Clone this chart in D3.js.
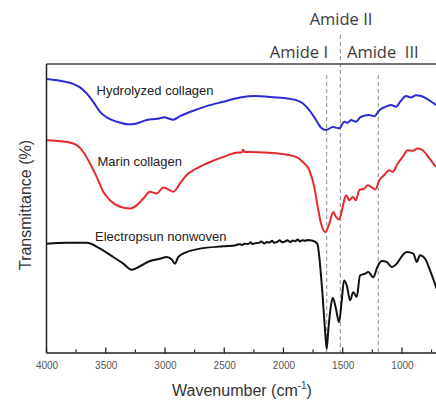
<!DOCTYPE html>
<html>
<head>
<meta charset="utf-8">
<script src="https://cdn.jsdelivr.net/npm/d3@7/dist/d3.min.js"></script>
<style>
  html, body { margin: 0; padding: 0; background: #fff; }
  svg { display: block; }
</style>
</head>
<body>
<svg id="chart" width="436" height="402"></svg>
<script>
// ---- Data (wavenumber in cm^-1, transmittance in arbitrary offset units) ----
const hydrolyzedWn = [3998,3886,3774,3717,3661,3605,3548,3492,3407,3310,3239,3154,3070,3000,2972,2930,2873,2761,2648,2508,2367,2232,2120,1979,1894,1838,1782,1725,1683,1641,1584,1529,1487,1458,1430,1388,1346,1276,1233,1191,1135,1092,1050,1008,966,924,881,839,797,713];
const hydrolyzedT  = [94.8,94.2,93.1,91.9,89.8,86.9,83.4,81.5,80.0,79.1,79.4,80.6,81.0,81.5,81.1,80.7,81.9,83.8,85.4,86.9,88.4,88.9,88.6,88.1,87.5,86.4,84.0,80.6,77.9,77.1,78.2,77.7,80.0,79.6,80.6,80.0,81.7,82.3,81.9,84.0,85.2,85.8,85.2,87.3,88.9,88.4,89.2,88.9,88.1,85.8];

const marineWn = [3998,3830,3745,3689,3633,3576,3521,3464,3380,3295,3239,3183,3126,3070,3014,2972,2930,2873,2817,2732,2648,2508,2401,2350,2340,2330,2288,2120,1979,1894,1838,1782,1740,1711,1683,1647,1613,1579,1557,1529,1500,1472,1444,1416,1388,1360,1318,1289,1261,1225,1191,1149,1107,1078,1036,994,951,909,867,825,769,713];
const marineT  = [73.6,73.0,71.9,69.5,65.5,60.9,55.7,52.8,50.5,49.9,51.0,53.4,55.7,55.1,57.2,56.5,55.7,58.6,61.5,63.8,65.5,67.8,69.2,69.4,70.4,69.5,69.5,69.2,68.6,67.8,66.1,63.2,57.4,50.5,44.7,41.8,44.7,48.7,47.0,46.1,50.5,54.5,52.8,53.9,52.8,56.3,56.8,58.0,57.4,56.5,59.7,61.5,63.2,62.6,65.5,67.8,70.1,69.9,70.7,70.1,67.3,64.3];

const nonwovenWn = [3998,3830,3661,3548,3436,3352,3281,3211,3126,3042,2985,2943,2915,2888,2817,2704,2508,2400,2380,2345,2330,2300,2275,2262,2240,2205,2190,2160,2142,2120,2095,2080,2050,2032,2010,1985,1970,1940,1922,1900,1880,1862,1840,1815,1800,1760,1714,1692,1669,1649,1635,1622,1601,1584,1557,1531,1508,1489,1466,1438,1411,1382,1354,1312,1284,1242,1208,1171,1129,1086,1044,1002,960,904,875,848,805,763,707];
const nonwovenT  = [37.7,38.0,38.0,36.0,33.1,30.8,28.7,29.9,31.7,32.5,33.1,32.2,30.8,33.1,34.8,36.0,36.8,37.2,37.5,37.3,37.7,37.6,38.2,37.6,37.9,38.0,38.5,37.8,38.3,38.1,38.7,38.0,38.4,38.9,38.2,38.5,38.9,38.3,38.8,38.6,39.2,38.5,38.9,38.7,39.0,38.8,37.7,30.8,19.2,7.6,1.3,7.6,15.7,19.0,15.2,10.5,18.1,25.0,23.3,18.1,20.9,19.2,26.7,27.3,27.9,26.1,29.6,31.7,31.4,29.6,30.8,33.3,34.8,34.3,31.4,33.7,32.5,28.5,22.1];

const seriesNames  = ["Hydrolyzed collagen", "Marin collagen", "Electropsun nonwoven"];
const majorTicks   = [4000, 3500, 3000, 2500, 2000, 1500, 1000];
const minorTicks   = [3750, 3250, 2750, 2250, 1750, 1250, 750];
const markerWn     = [1635, 1520, 1200];
const markerLabels = ["Amide I", "Amide II", "Amide  III"];

// ---- Layout ----
const svg = d3.select("#chart");
const pLeft = 46.5, pRight = 437.5, pTop = 64, pBottom = 352.5;

const x = d3.scaleLinear().domain([4000, 700]).range([pLeft, pRight]);
const y = d3.scaleLinear().domain([0, 100]).range([pBottom, pTop]);

svg.append("defs").append("clipPath").attr("id", "plotClip")
  .append("rect").attr("x", pLeft).attr("y", pTop).attr("width", pRight - pLeft).attr("height", pBottom - pTop);

// dashed marker lines
const dashG = svg.append("g");
markerWn.forEach((w, i) => {
  dashG.append("line")
    .attr("x1", x(w)).attr("x2", x(w))
    .attr("y1", i === 1 ? 35 : pTop + 11).attr("y2", pBottom)
    .attr("stroke", "#8a8a8a").attr("stroke-width", 1)
    .attr("stroke-dasharray", "4,3");
});

// curves
const line = d3.line()
  .x(d => x(d[0])).y(d => y(d[1]))
  .curve(d3.curveMonotoneX);

const series = [
  { wn: hydrolyzedWn, t: hydrolyzedT, color: "#2a2ad6" },
  { wn: marineWn,     t: marineT,     color: "#e42a2a" },
  { wn: nonwovenWn,   t: nonwovenT,   color: "#111111" }
];
const curveG = svg.append("g").attr("clip-path", "url(#plotClip)");
series.forEach(s => {
  curveG.append("path")
    .datum(d3.zip(s.wn, s.t))
    .attr("d", line)
    .attr("fill", "none")
    .attr("stroke", s.color)
    .attr("stroke-width", 2)
    .attr("stroke-linejoin", "round");
});

// frame: top and left lines
svg.append("line").attr("x1", pLeft).attr("x2", 436).attr("y1", pTop).attr("y2", pTop)
  .attr("stroke", "#444").attr("stroke-width", 1.3);
svg.append("line").attr("x1", pLeft).attr("x2", pLeft).attr("y1", pTop).attr("y2", pBottom)
  .attr("stroke", "#222").attr("stroke-width", 1.5);

// bottom axis
const xAxis = d3.axisBottom(x).tickValues(majorTicks).tickSize(0).tickPadding(9)
  .tickFormat(d3.format("d"));
const axG = svg.append("g").attr("transform", `translate(0,${pBottom})`).call(xAxis);
axG.select(".domain").attr("stroke", "#222").attr("stroke-width", 1.5);
axG.selectAll("text").attr("font-family", "Liberation Sans, Arial, sans-serif")
  .attr("font-size", 10).attr("fill", "#555");
majorTicks.forEach(t => {
  axG.append("line").attr("x1", x(t)).attr("x2", x(t)).attr("y1", -5).attr("y2", 1)
    .attr("stroke", "#222").attr("stroke-width", 1.3);
});
minorTicks.forEach(t => {
  axG.append("line").attr("x1", x(t)).attr("x2", x(t)).attr("y1", -3).attr("y2", 0)
    .attr("stroke", "#222").attr("stroke-width", 1.2);
});

// axis titles
const xt = svg.append("text").attr("x", 242).attr("y", 396).attr("text-anchor", "middle")
  .attr("font-family", "Liberation Sans, Arial, sans-serif").attr("font-size", 16).attr("fill", "#333");
xt.append("tspan").text("Wavenumber (cm");
xt.append("tspan").attr("font-size", 10).attr("dy", -7).text("-1");
xt.append("tspan").attr("dy", 7).text(")");

svg.append("text").attr("transform", "translate(31,205) rotate(-90)").attr("text-anchor", "middle")
  .attr("font-family", "Liberation Sans, Arial, sans-serif").attr("font-size", 16).attr("fill", "#333")
  .text("Transmittance (%)");

// series labels
const labelPos = [[96.5, 95], [97.5, 166], [95, 240.5]];
seriesNames.forEach((n, i) => {
  svg.append("text").attr("x", labelPos[i][0]).attr("y", labelPos[i][1])
    .attr("font-family", "Liberation Sans, Arial, sans-serif").attr("font-size", 13).attr("fill", "#222")
    .text(n);
});

// amide labels
const amideFont = "Open Sans, Noto Sans, sans-serif";
svg.append("text").attr("x", 328).attr("y", 58).attr("text-anchor", "end")
  .attr("font-family", amideFont).attr("font-size", 16.5).attr("fill", "#3a3a3a").text(markerLabels[0]);
svg.append("text").attr("x", 341).attr("y", 25).attr("text-anchor", "middle")
  .attr("font-family", amideFont).attr("font-size", 16.5).attr("fill", "#3a3a3a").text(markerLabels[1]);
svg.append("text").attr("x", 347).attr("y", 58).attr("text-anchor", "start")
  .style("white-space", "pre")
  .attr("font-family", amideFont).attr("font-size", 16.5).attr("fill", "#3a3a3a").text(markerLabels[2]);
</script>
</body>
</html>
